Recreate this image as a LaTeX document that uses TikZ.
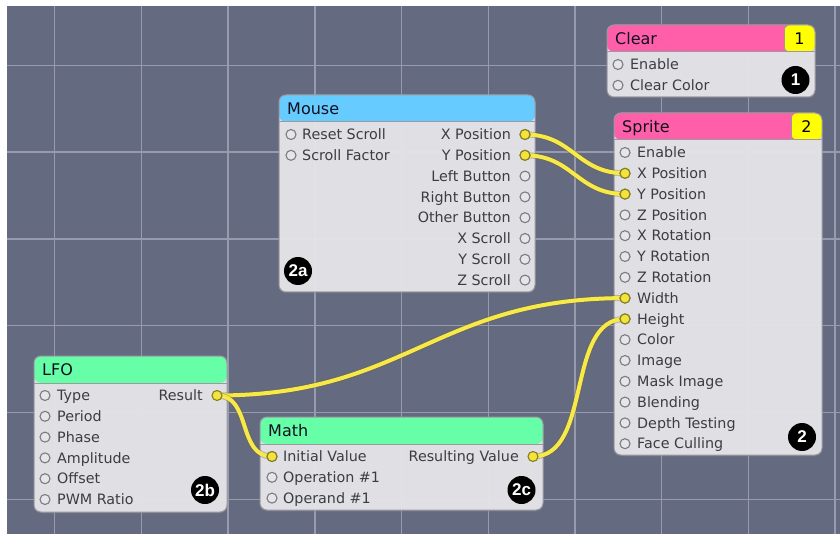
\documentclass[tikz,border=0pt]{standalone}
\usepackage{fontspec}
\setmainfont{DejaVu Sans}
\newfontfamily\badgefont{Liberation Sans}
\usetikzlibrary{shadows}
\definecolor{bgc}{HTML}{646A80}
\definecolor{gridc}{HTML}{979BAD}
\definecolor{bodyc}{HTML}{E6E6EA}
\definecolor{borderc}{HTML}{9A9AA0}
\definecolor{pinkc}{HTML}{FF5FA8}
\definecolor{bluec}{HTML}{66CCFF}
\definecolor{greenc}{HTML}{66FFA8}
\definecolor{numc}{HTML}{FFFF00}
\definecolor{wirec}{HTML}{F8E94B}
\definecolor{portyel}{HTML}{F4E33C}
\definecolor{portedge}{HTML}{7C7C80}
\definecolor{labelc}{HTML}{3C3C44}
\definecolor{titlec}{HTML}{101020}
\pgfdeclarelayer{back}
\pgfdeclarelayer{wirelayer}
\pgfsetlayers{back,wirelayer,main}
\tikzset{
  panel/.style={draw=borderc, line width=1pt, fill=bodyc, fill opacity=0.95,
    rounded corners=7pt, inner sep=0pt, outer sep=0pt, anchor=north west,
    drop shadow={opacity=0.3, shadow xshift=0pt, shadow yshift=-1.5pt}},
  head/.style={path picture={\fill[#1, fill opacity=1] (path picture bounding box.north west) rectangle ([yshift=-27pt]path picture bounding box.north east);}},
  numhead/.style={path picture={
    \fill[#1, fill opacity=1] (path picture bounding box.north west) rectangle ([yshift=-27pt]path picture bounding box.north east);
    \fill[numc, fill opacity=1] ([xshift=-31pt]path picture bounding box.north east) rectangle ([yshift=-27pt]path picture bounding box.north east);
    \draw[borderc, line width=1pt] ([xshift=-31pt]path picture bounding box.north east) -- ([xshift=-31pt,yshift=-27pt]path picture bounding box.north east);}},
  sepline/.style={draw=borderc, line width=1pt},
  gridline/.style={draw=gridc, line width=1.4pt},
  title/.style={font=\fontsize{16}{18}\selectfont, text=titlec, inner sep=0pt, anchor=base west},
  numtext/.style={font=\fontsize{16}{18}\selectfont, text=black, inner sep=0pt},
  lab/.style={font=\fontsize{14.3}{16}\selectfont, text=labelc, inner sep=0pt},
  portc/.style={circle, draw=portedge, fill=bodyc, minimum size=10pt, inner sep=0pt, line width=1.1pt},
  porton/.style={portc, fill=portyel, draw=black!45!portyel},
  wire/.style={draw=wirec, line width=4pt, line cap=round,
    preaction={draw=black!55!wirec, draw opacity=0.35, line width=6pt}},
  badge/.style={circle, fill=black, text=white, font=\badgefont\bfseries\fontsize{17}{17}\selectfont, minimum size=28pt, inner sep=0pt}
}
\begin{document}
\begin{tikzpicture}[x=1pt,y=-1pt]
\useasboundingbox (0,0) rectangle (840,534);
\begin{pgfonlayer}{back}
\fill[white] (0,0) rectangle (840,534);
\fill[bgc] (7,6) rectangle (840,534);
\foreach \i in {0,...,9} \draw[gridline] ({54.7+86.7*\i},6) -- ({54.7+86.7*\i},534);
\foreach \j in {0,...,5} \draw[gridline] (7,{65.3+86.8*\j}) -- (840,{65.3+86.8*\j});
% panels
\node[panel, numhead=pinkc, minimum width=208pt, minimum height=72pt] (clear) at (607,25) {};
\node[panel, head=bluec, minimum width=256pt, minimum height=197pt] (mouse) at (279,95) {};
\node[panel, numhead=pinkc, minimum width=208pt, minimum height=342pt] (sprite) at (614,113) {};
\node[panel, head=greenc, minimum width=193pt, minimum height=156pt] (lfo) at (34,356) {};
\node[panel, head=greenc, minimum width=283pt, minimum height=93pt] (math) at (260,417) {};
\foreach \b in {clear,mouse,sprite,lfo,math}
  \draw[sepline] ([yshift=-27pt]\b.north west) -- ([yshift=-27pt]\b.north east);
\end{pgfonlayer}
% titles
\node[title] (cleart) at (615,44.2) {Clear};
\node[numtext] (clearn) at (799.5,38.5) {1};
\node[title] (mouset) at (287,114.2) {Mouse};
\node[title] (spritet) at (622,132.2) {Sprite};
\node[numtext] (spriten) at (806.5,126.5) {2};
\node[title] (lfot) at (42,375.2) {LFO};
\node[title] (matht) at (268,436.2) {Math};
% Clear ports
\foreach \t [count=\i from 0] in {Enable,Clear Color}{
  \node[portc] (cl\i) at (618,{64.5+20.8*\i}) {};
  \node[lab, anchor=base west] (cll\i) at (630,{69.7+20.8*\i}) {\t};
}
% Mouse ports
\foreach \t [count=\i from 0] in {Reset Scroll,Scroll Factor}{
  \node[portc] (mi\i) at (291,{134.5+20.8*\i}) {};
  \node[lab, anchor=base west] (mil\i) at (302,{139.7+20.8*\i}) {\t};
}
\foreach \t [count=\i from 0] in {X Position,Y Position,Left Button,Right Button,Other Button,X Scroll,Y Scroll,Z Scroll}{
  \node[portc] (mo\i) at (525,{134.5+20.8*\i}) {};
  \node[lab, anchor=base east] (mol\i) at (511,{139.7+20.8*\i}) {\t};
}
\node[porton] (mox) at (525,134.5) {};
\node[porton] (moy) at (525,155.3) {};
% Sprite ports
\foreach \t [count=\i from 0] in {Enable,X Position,Y Position,Z Position,X Rotation,Y Rotation,Z Rotation,Width,Height,Color,Image,Mask Image,Blending,Depth Testing,Face Culling}{
  \node[portc] (sp\i) at (625,{152.5+20.8*\i}) {};
  \node[lab, anchor=base west] (spl\i) at (637,{157.7+20.8*\i}) {\t};
}
\node[porton] (spx) at (625,173.3) {};
\node[porton] (spy) at (625,194.1) {};
\node[porton] (spw) at (625,298.1) {};
\node[porton] (sph) at (625,318.9) {};
% LFO ports
\foreach \t [count=\i from 0] in {Type,Period,Phase,Amplitude,Offset,PWM Ratio}{
  \node[portc] (lf\i) at (45,{395.5+20.8*\i}) {};
  \node[lab, anchor=base west] (lfl\i) at (57,{400.7+20.8*\i}) {\t};
}
\node[porton] (lfr) at (217,395.5) {};
\node[lab, anchor=base east] (lfrl) at (203,400.7) {Result};
% Math ports
\foreach \t [count=\i from 0] in {Initial Value,Operation \#1,Operand \#1}{
  \node[portc] (ma\i) at (272,{456.5+20.8*\i}) {};
  \node[lab, anchor=base west] (mal\i) at (283,{461.7+20.8*\i}) {\t};
}
\node[porton] (mai) at (272,456.5) {};
\node[porton] (mar) at (533,456.5) {};
\node[lab, anchor=base east] (marl) at (519,461.7) {Resulting Value};
% badges
\node[badge] (b1) at (795.5,80) {1};
\node[badge] (b2) at (802,437) {2};
\node[badge] (b2a) at (298,271) {2a};
\node[badge] (b2b) at (205,490) {2b};
\node[badge] (b2c) at (521.5,490) {2c};
% wires
\begin{pgfonlayer}{wirelayer}
\draw[wire] (mox.center) .. controls +(48,0) and +(-48,0) .. (spx.center);
\draw[wire] (moy.center) .. controls +(48,0) and +(-48,0) .. (spy.center);
\draw[wire] (lfr.center) .. controls +(190,0) and +(-190,0) .. (spw.center);
\draw[wire] (lfr.center) .. controls +(35,0) and +(-35,0) .. (mai.center);
\draw[wire] (mar.center) .. controls +(60,0) and +(-60,0) .. (sph.center);
\end{pgfonlayer}
\end{tikzpicture}
\end{document}
